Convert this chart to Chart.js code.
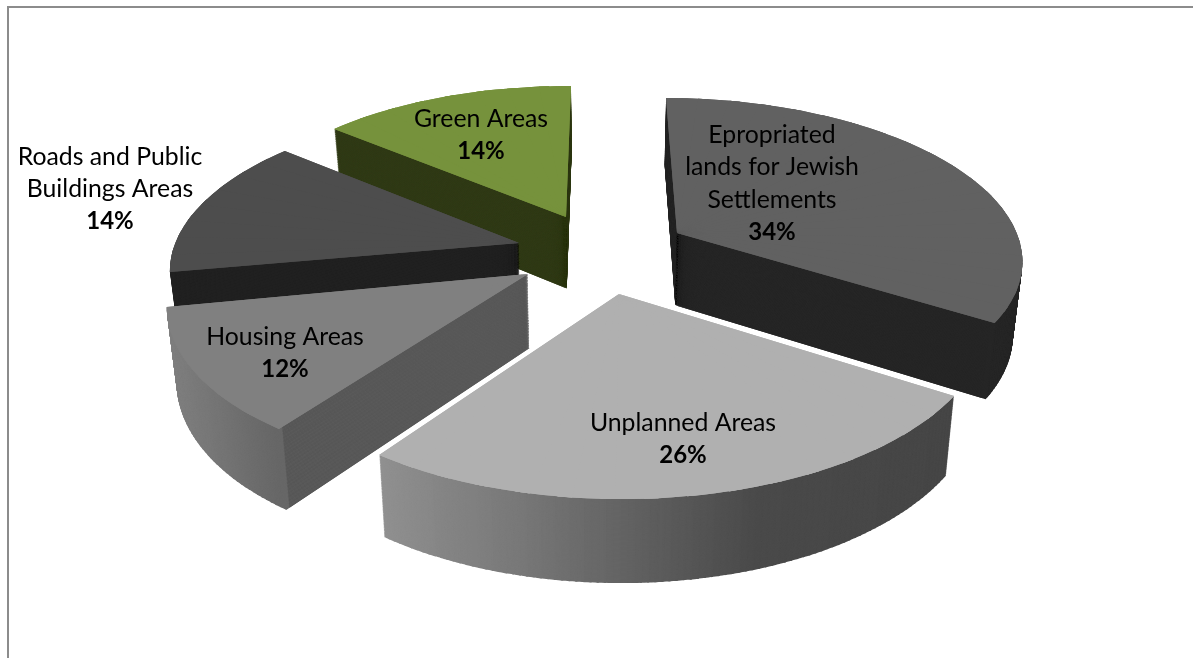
<!DOCTYPE html>
<html>
<head>
<meta charset="utf-8">
<title>Land use</title>
<script src="https://cdn.jsdelivr.net/npm/chart.js@4"></script>
<style>
  html, body { margin: 0; padding: 0; background: #fff; overflow: hidden; }
  #frame { position: absolute; left: 7px; top: 6px; right: 0; bottom: 0; border-left: 2px solid #8c8c8c; border-top: 2px solid #8c8c8c; }
  canvas { position: absolute; left: 0; top: 0; }
</style>
</head>
<body>
<div id="frame"></div>
<canvas id="landUse" width="1193" height="658"></canvas>
<script>
const categories = [
  ["Epropriated", "lands for Jewish", "Settlements"],
  ["Unplanned Areas"],
  ["Housing Areas"],
  ["Roads and Public", "Buildings Areas"],
  ["Green Areas"],
];
const shares = [34, 26, 12, 14, 14];

const topColors = ["#616161", "#b0b0b0", "#808080", "#4d4d4d", "#76923c"];
// the unplanned slice never shows a cut wall, its top colour hides the fringe
const cutColors = ["#262626", "#b0b0b0", "#555555", "#212121", "#303a16"];
// wall colour along the rim, as [screen x, grey level]
const rimShades = [
  [[0, 0x26]],
  [[379, 0x90], [520, 0x78], [640, 0x60], [760, 0x4a], [954, 0x46]],
  [[167, 0x80], [279, 0x66]],
  [[0, 0x21]],
  null,
];
const greenRimColor = "#303a16";

// where each exploded slice sits on the page and how it is foreshortened
const sliceViews = [
  { cx: 677, cy: 233, f: 340, c: 12.5, s: 0.9, k: 154 },
  { cx: 619, cy: 294, f: 365.5, c: 2.6, s: -0.2, k: 176.4 },
  { cx: 528, cy: 274, f: 355.4, c: -14.8, s: -0.4, k: 169.6 },
  { cx: 519, cy: 243, f: 343.3, c: -14.8, s: 0.9, k: 156 },
  { cx: 566, cy: 217, f: 332.4, c: -5.7, s: 0.9, k: 149.3 },
];
const labelSpots = [
  { x: 772, y: 135 },
  { x: 683, y: 423 },
  { x: 285, y: 337 },
  { x: 110, y: 157 },
  { x: 481, y: 119 },
];
const drawOrder = [4, 0, 3, 2, 1];

const perspective = 0.14;
const degrees = Math.PI / 180;
const layerCount = 100;
const lineHeight = 32.3;

const rimPoint = (view, phi) => {
  const X = Math.cos(phi);
  const Y = Math.sin(phi);
  const w = 1 - perspective * Y;
  return { x: (view.f * X + view.c * Y) / w, y: (view.s * X + view.k * Y) / w };
};

const greyAt = (stops, x) => {
  let level = stops[0][1];
  for (let i = 0; i < stops.length; i++) {
    if (x >= stops[i][0]) {
      const next = stops[i + 1];
      level = next && x < next[0]
        ? stops[i][1] + ((next[1] - stops[i][1]) * (x - stops[i][0])) / (next[0] - stops[i][0])
        : stops[i][1];
    }
  }
  const g = Math.round(level);
  return "rgb(" + g + "," + g + "," + g + ")";
};

// draw one thin part of a slice with the arc element, stretched so its two rim ends land on the projected rim
const drawWedge = (ctx, arc, view, from, to, drawTo, radiusScale, color, baseOptions) => {
  const q1 = rimPoint(view, from);
  const q2 = rimPoint(view, to);
  const u1x = Math.cos(from);
  const u1y = Math.sin(from);
  const u2x = Math.cos(to);
  const u2y = Math.sin(to);
  const det = u1x * u2y - u2x * u1y;
  const a = (q1.x * u2y - q2.x * u1y) / det;
  const c = (u1x * q2.x - u2x * q1.x) / det;
  const b = (q1.y * u2y - q2.y * u1y) / det;
  const d = (u1x * q2.y - u2x * q1.y) / det;
  const R = arc.baseRadius;

  ctx.save();
  ctx.transform(
    a / R, b / R, c / R, d / R,
    view.cx - (a * arc.x + c * arc.y) / R,
    view.cy - (b * arc.x + d * arc.y) / R
  );
  arc.startAngle = from;
  arc.endAngle = drawTo;
  arc.circumference = drawTo - from;
  arc.outerRadius = R * radiusScale;
  arc.options = Object.assign({}, baseOptions, { backgroundColor: color, borderWidth: 0 });
  arc.draw(ctx);
  ctx.restore();
};

const eachWedge = (range, stepSize, overlap, fn) => {
  const count = Math.max(1, Math.round((range.end - range.start) / stepSize));
  const step = (range.end - range.start) / count;
  for (let i = 0; i < count; i++) {
    const from = range.start + i * step;
    const to = from + step;
    fn(from, to, Math.min(to + overlap, range.end));
  }
};

const drawWallLayer = (ctx, arc, index, range, baseOptions) => {
  const view = sliceViews[index];
  eachWedge(range, 1 * degrees, 0.3 * degrees, (from, to, drawTo) => {
    const mid = rimPoint(view, (from + to) / 2);
    const rimColor = rimShades[index] ? greyAt(rimShades[index], view.cx + mid.x) : greenRimColor;
    drawWedge(ctx, arc, view, from, to, drawTo, 1, rimColor, baseOptions);
  });
  eachWedge(range, 6 * degrees, 2 * degrees, (from, to, drawTo) => {
    drawWedge(ctx, arc, view, from, to, drawTo, 0.985, cutColors[index], baseOptions);
  });
};

const drawTopFace = (ctx, arc, index, range, baseOptions) => {
  eachWedge(range, 6 * degrees, 2 * degrees, (from, to, drawTo) => {
    drawWedge(ctx, arc, sliceViews[index], from, to, drawTo, 1, topColors[index], baseOptions);
  });
};

const pieBlockPlugin = {
  id: "pieBlock",
  beforeDatasetsDraw(chart) {
    const ctx = chart.ctx;
    const arcs = chart.getDatasetMeta(0).data;
    for (const index of drawOrder) {
      const arc = arcs[index];
      const keep = {
        startAngle: arc.startAngle,
        endAngle: arc.endAngle,
        circumference: arc.circumference,
        outerRadius: arc.outerRadius,
        options: arc.options,
      };
      const range = { start: arc.startAngle, end: arc.endAngle };
      arc.baseRadius = arc.outerRadius;

      // walls: pile the slice up from the bottom, walls lean toward the middle of the pie
      for (let n = layerCount; n > 0; n--) {
        const t = n / layerCount;
        ctx.save();
        ctx.transform(1 - 0.0226 * t, 0, 0, 1 + 0.044 * t, 0.0226 * t * 600, t * 62);
        drawWallLayer(ctx, arc, index, range, keep.options);
        ctx.restore();
      }
      // twice, the thin wedge tips near the centre let the wall show through otherwise
      drawTopFace(ctx, arc, index, range, keep.options);
      drawTopFace(ctx, arc, index, range, keep.options);

      Object.assign(arc, keep);
    }
    return false;
  },
  afterDraw(chart) {
    const ctx = chart.ctx;
    ctx.save();
    ctx.textAlign = "center";
    ctx.textBaseline = "middle";
    ctx.fillStyle = "#000";
    categories.forEach((lines, i) => {
      const spot = labelSpots[i];
      ctx.font = "24.8px Lato";
      lines.forEach((line, l) => {
        ctx.fillText(line, spot.x, spot.y + l * lineHeight);
      });
      ctx.font = "bold 24px Lato";
      ctx.fillText(shares[i] + "%", spot.x, spot.y + lines.length * lineHeight);
    });
    ctx.restore();
  },
};

new Chart(document.getElementById("landUse").getContext("2d"), {
  type: "pie",
  data: {
    labels: categories.map((lines) => lines.join(" ")),
    datasets: [
      {
        data: shares,
        backgroundColor: topColors,
        borderWidth: 0,
      },
    ],
  },
  options: {
    responsive: false,
    animation: false,
    plugins: {
      legend: { display: false },
      tooltip: { enabled: false },
    },
  },
  plugins: [pieBlockPlugin],
});
</script>
</body>
</html>
